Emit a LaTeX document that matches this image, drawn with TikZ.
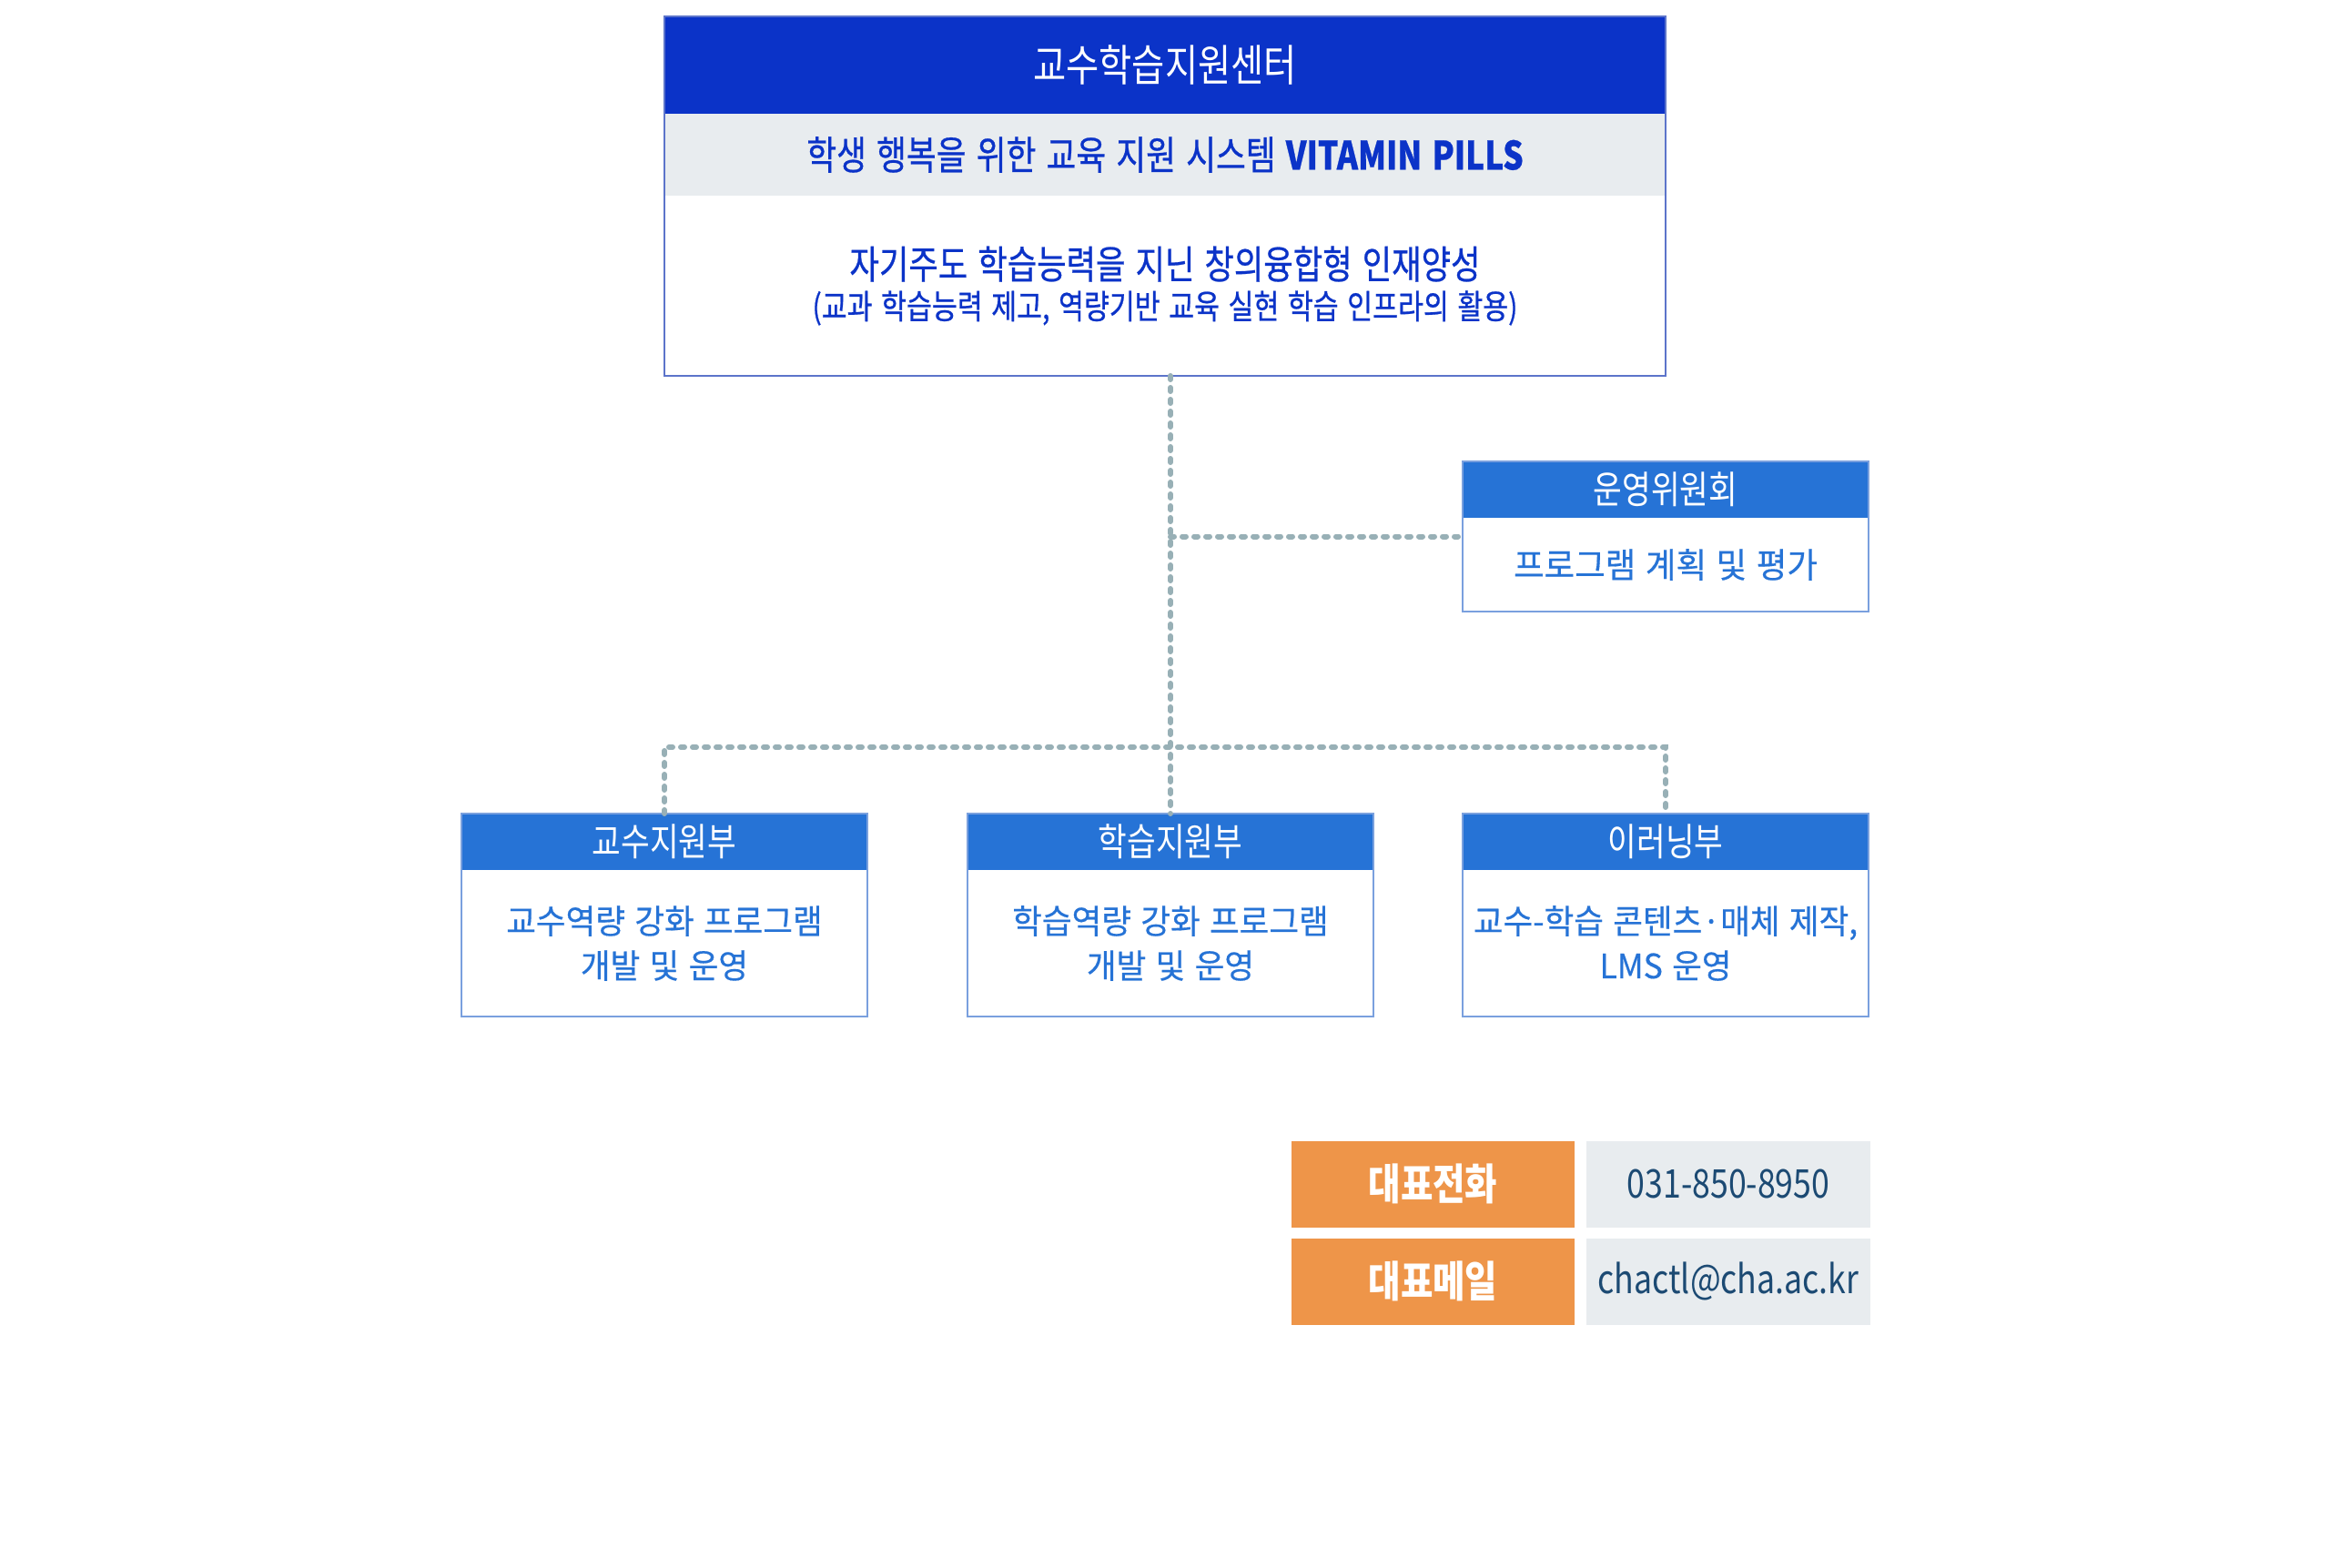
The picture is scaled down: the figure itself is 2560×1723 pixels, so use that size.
\documentclass[tikz,border=0pt]{standalone}
\usepackage{fontspec}
\setmainfont{Noto Sans CJK KR}[FakeStretch=0.82, WordSpace=1.4]
\newfontfamily\midfont{Noto Sans CJK KR}[FakeStretch=0.82, WordSpace=1.4, FakeBold=0.6]
\newfontfamily\bodyfont{Noto Sans CJK KR}[FakeStretch=0.96, WordSpace=1.3, FakeBold=0.4]
\usepackage{tikz}
\usepackage{xcolor}
\usetikzlibrary{positioning, calc}
\definecolor{ctlblue}{RGB}{11, 51, 200}
\definecolor{ctledge}{RGB}{92, 116, 202}
\definecolor{unitblue}{RGB}{38, 115, 214}
\definecolor{unitline}{RGB}{122, 160, 222}
\definecolor{bandgray}{RGB}{232, 236, 239}
\definecolor{linkgray}{RGB}{152, 176, 182}
\definecolor{telorange}{RGB}{238, 149, 73}
\definecolor{telnavy}{RGB}{28, 74, 115}
\tikzset{
    box/.style={rectangle, inner sep=0pt, outer sep=0pt, align=center},
    ctlhead/.style={box, fill=ctlblue, text=white, minimum width=1100pt, minimum height=107pt, font=\fontsize{48}{52}\selectfont},
    ctlband/.style={box, fill=bandgray, text=ctlblue, minimum width=1100pt, minimum height=90pt, font=\midfont\fontsize{43.5}{50}\selectfont},
    ctlbody/.style={box, fill=white, text=ctlblue, minimum width=1100pt, minimum height=198pt, font=\midfont\fontsize{37}{44}\selectfont},
    unithead/.style={box, fill=unitblue, text=white, minimum width=446pt, minimum height=62pt, font=\fontsize{42}{46}\selectfont},
    unitbody/.style={box, fill=white, text=unitblue, minimum width=446pt, font=\bodyfont\fontsize{37}{49}\selectfont},
    unitedge/.style={draw=unitline, line width=2pt},
    link/.style={draw=linkgray, line width=6pt, line cap=round, dash pattern=on 4pt off 9pt},
    telkey/.style={box, fill=telorange, text=white, minimum width=311pt, minimum height=95pt, font=\bfseries\fontsize{47}{50}\selectfont},
    telval/.style={box, fill=bandgray, text=telnavy, minimum width=312pt, minimum height=95pt, font=\fontsize{43.5}{50}\selectfont}
}
\begin{document}
\begin{tikzpicture}[x=1pt, y=-1pt, node distance=0pt]
\useasboundingbox (0,0) rectangle (2560,1723);
% center box
\node[ctlhead] (ctl) at (1280,71.5) {교수학습지원센터};
\node[ctlband, below=of ctl] (vision) {학생 행복을 위한 교육 지원 시스템 {\bfseries\fontsize{43}{50}\selectfont VITAMIN PILLS}};
\node[ctlbody, below=of vision] (goal) {{\fontsize{43}{44}\selectfont 자기주도 학습능력을 지닌 창의융합형 인재양성}\\(교과 학습능력 제고, 역량기반 교육 실현 학습 인프라의 활용)};
\draw[draw=ctledge, line width=2pt] (ctl.north west) rectangle (goal.south east);

% committee
\node[unithead] (cmt) at (1830,538) {운영위원회};
\node[unitbody, minimum height=103pt, font=\bodyfont\fontsize{38}{44}\selectfont, below=of cmt] (cmtbody) {프로그램 계획 및 평가};
\draw[unitedge] (cmt.north west) rectangle (cmtbody.south east);

% units
\node[unithead] (prof) at (730,925) {교수지원부};
\node[unitbody, minimum height=161pt, below=of prof] (profbody) {교수역량 강화 프로그램\\개발 및 운영};
\draw[unitedge] (prof.north west) rectangle (profbody.south east);
\node[unithead] (learn) at (1286,925) {학습지원부};
\node[unitbody, minimum height=161pt, below=of learn] (learnbody) {학습역량 강화 프로그램\\개발 및 운영};
\draw[unitedge] (learn.north west) rectangle (learnbody.south east);
\node[unithead] (elearn) at (1830,925) {이러닝부};
\node[unitbody, minimum height=161pt, below=of elearn] (elearnbody) {교수-학습 콘텐츠·매체 제작,\\LMS 운영};
\draw[unitedge] (elearn.north west) rectangle (elearnbody.south east);

% connectors
\coordinate (cmtjoin) at ($(cmt.north west)!.5!(cmtbody.south west)$);
\coordinate (split) at ([yshift=73pt]learn.north);
\draw[link] (goal.south -| learn.north) -- (learn.north);
\draw[link] (learn.north |- cmtjoin) -- (cmtjoin);
\draw[link] (prof.north) |- (split) -| (elearn.north);

% contact
\node[telkey] (tel) at (1574.5,1301) {대표전화};
\node[telval, right=13pt of tel] (telnum) {031-850-8950};
\node[telkey, below=12pt of tel] (mail) {대표메일};
\node[telval, right=13pt of mail] (mailaddr) {chactl@cha.ac.kr};
\end{tikzpicture}
\end{document}
